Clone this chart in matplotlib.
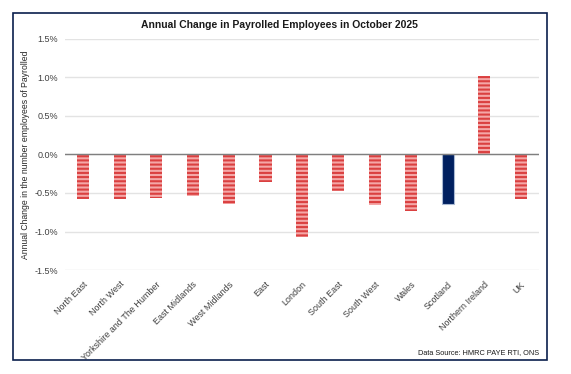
import matplotlib
matplotlib.use('Agg')
import matplotlib.pyplot as plt
from matplotlib.patches import Rectangle
from matplotlib.ticker import FuncFormatter

plt.rcParams['font.family'] = ['Liberation Sans', 'DejaVu Sans']
plt.rcParams['hatch.linewidth'] = 1.5

regions = ['North East', 'North West', 'Yorkshire and The Humber', 'East Midlands',
           'West Midlands', 'East', 'London', 'South East', 'South West', 'Wales',
           'Scotland', 'Northern Ireland', 'UK']
change = [-0.58, -0.58, -0.56, -0.54, -0.64, -0.36, -1.07, -0.47, -0.66, -0.74,
          -0.64, 1.02, -0.58]

fig = plt.figure(figsize=(5.71, 3.74), dpi=100)
ax = fig.add_axes([0.1138, 0.278, 0.83, 0.618])

x = range(len(regions))
for i, (r, v) in enumerate(zip(regions, change)):
    if r == 'Scotland':
        ax.bar(i, v, width=0.33, color='#002060', edgecolor='#a9b9d3', linewidth=0.8, zorder=3)
    else:
        ax.bar(i, v, width=0.33, facecolor='#f4a7a7', edgecolor='#da4040', linewidth=0,
               hatch='----', zorder=3)

ax.set_xlim(-0.5, len(regions) - 0.5)
ax.set_ylim(-1.5, 1.5)
ax.set_yticks([-1.5, -1.0, -0.5, 0.0, 0.5, 1.0, 1.5])
ax.yaxis.set_major_formatter(FuncFormatter(lambda v, p: f'{v:.1f}%'))
ax.grid(axis='y', color='#e3e3e3', linewidth=1, zorder=0)
ax.axhline(0, color='#7f7f7f', linewidth=1, zorder=4)
for s in ax.spines.values():
    s.set_visible(False)
ax.tick_params(length=0, labelsize=6.5, colors='#404040')
ax.tick_params(axis='x', pad=7)
ax.tick_params(axis='y', pad=5)
ax.set_xticks(list(x))
ax.set_xticklabels(regions, rotation=45, ha='right', rotation_mode='anchor')
ax.set_ylabel('Annual Change in the number employees of Payrolled', fontsize=6.2,
              color='#262626', labelpad=3)

fig.text(0.49, 0.934, 'Annual Change in Payrolled Employees in October 2025',
         ha='center', va='center', fontsize=7.5, fontweight='bold', color='#1a1a1a')
fig.text(0.944, 0.058, 'Data Source: HMRC PAYE RTI, ONS', ha='right', va='center',
         fontsize=5.3, color='#1a1a1a')

fig.patches.append(Rectangle((13 / 571, 1 - 360 / 374), (547 - 13) / 571, (360 - 13) / 374,
                             transform=fig.transFigure, fill=False, edgecolor='#0b1f4d',
                             linewidth=1.2))

fig.savefig('out.png', dpi=100)
